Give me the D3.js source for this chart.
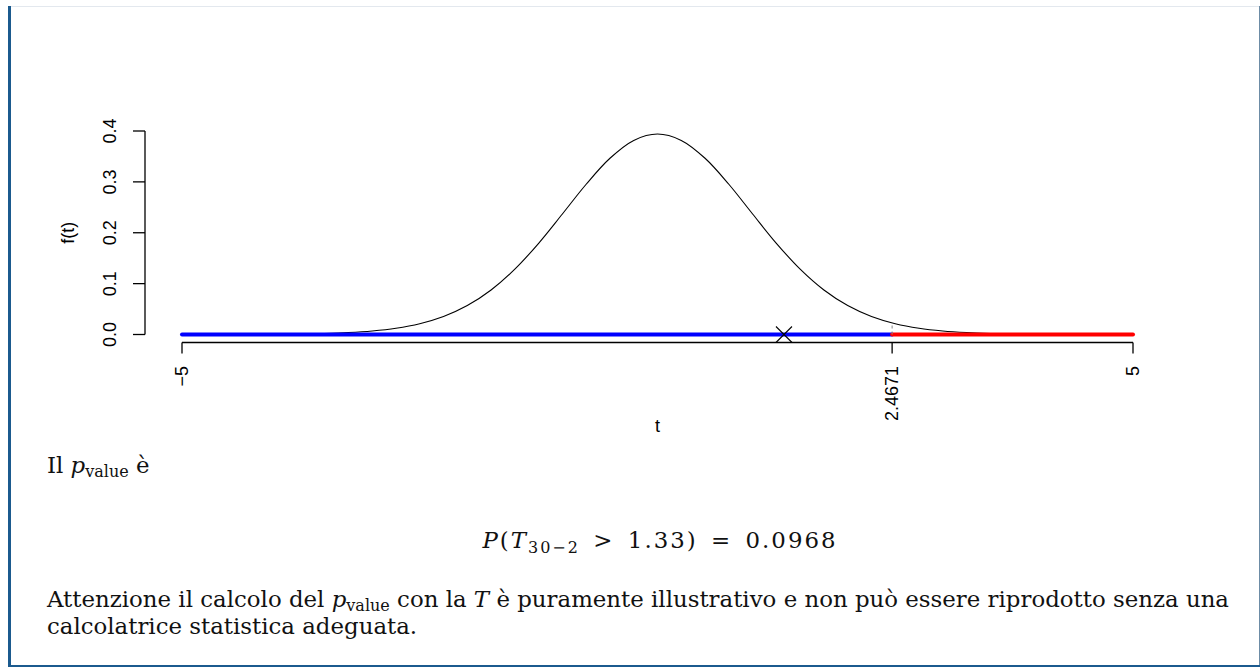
<!DOCTYPE html>
<html>
<head>
<meta charset="utf-8">
<script src="https://cdn.jsdelivr.net/npm/d3@7"></script>
<style>
  html, body { margin: 0; padding: 0; background: #fff; }
  svg { display: block; }
</style>
</head>
<body>
<svg id="chart" width="1260" height="667"></svg>
<script>
// ---- data ----
const tValues = [-5,-4.75,-4.5,-4.25,-4,-3.75,-3.5,-3.25,-3,-2.75,-2.5,-2.25,-2,-1.75,-1.5,-1.25,-1,-0.75,-0.5,-0.25,
                 0,0.25,0.5,0.75,1,1.25,1.5,1.75,2,2.25,2.5,2.75,3,3.25,3.5,3.75,4,4.25,4.5,4.75,5];
const densityValues = [0.0000379,0.0000748,0.000147,0.000289,0.000561,0.00108,0.00204,0.00380,0.00692,0.01230,
                       0.02122,0.03540,0.05683,0.08747,0.12847,0.17930,0.23690,0.29531,0.34638,0.38150,
                       0.39403,
                       0.38150,0.34638,0.29531,0.23690,0.17930,0.12847,0.08747,0.05683,0.03540,0.02122,
                       0.01230,0.00692,0.00380,0.00204,0.00108,0.000561,0.000289,0.000147,0.0000748,0.0000379];
const xTicks = [-5, 2.4671, 5];
const xTickLabels = ["\u22125", "2.4671", "5"];
const yTicks = [0, 0.1, 0.2, 0.3, 0.4];
const yTickLabels = ["0.0", "0.1", "0.2", "0.3", "0.4"];
const tObserved = 1.33;
const tCritical = 2.4671;
const densityAtCritical = 0.0227;
const acceptRegion = [-5, 2.4671];
const rejectRegion = [2.4671, 5];

// ---- layout ----
const svg = d3.select("#chart");
const x = d3.scaleLinear().domain([-5, 5]).range([182, 1133]);
const y = d3.scaleLinear().domain([0, 0.4]).range([334.5, 131]);
const sans = "'Liberation Sans', Arial, Helvetica, sans-serif";
const serif = "'DejaVu Serif', 'Liberation Serif', serif";

// page frame
svg.append("line").attr("x1", 10).attr("x2", 1260).attr("y1", 6.5).attr("y2", 6.5)
  .attr("stroke", "#e3e8ee").attr("stroke-width", 1);
svg.append("line").attr("x1", 1259.5).attr("x2", 1259.5).attr("y1", 6).attr("y2", 667)
  .attr("stroke", "#6d8ca6").attr("stroke-width", 1);
svg.append("rect").attr("x", 8).attr("y", 6).attr("width", 3).attr("height", 661).attr("fill", "#1b5a8e");
svg.append("rect").attr("x", 8).attr("y", 665).attr("width", 1252).attr("height", 2).attr("fill", "#1b5a8e");

// density curve
const pts = tValues.map((t, i) => [t, densityValues[i]]);
svg.append("path")
  .datum(pts)
  .attr("fill", "none").attr("stroke", "#000").attr("stroke-width", 1.1)
  .attr("d", d3.line().x(d => x(d[0])).y(d => y(d[1])).curve(d3.curveCatmullRom.alpha(0.5)));

// regions
svg.append("line")
  .attr("x1", x(acceptRegion[0])).attr("x2", x(acceptRegion[1]))
  .attr("y1", y(0)).attr("y2", y(0))
  .attr("stroke", "#0000ff").attr("stroke-width", 4).attr("stroke-linecap", "round");
svg.append("line")
  .attr("x1", x(rejectRegion[0])).attr("x2", x(rejectRegion[1]))
  .attr("y1", y(0)).attr("y2", y(0))
  .attr("stroke", "#ff0000").attr("stroke-width", 4).attr("stroke-linecap", "round");

// critical value dashed segment
svg.append("line")
  .attr("x1", x(tCritical)).attr("x2", x(tCritical))
  .attr("y1", y(0)).attr("y2", y(densityAtCritical))
  .attr("stroke", "#888").attr("stroke-width", 1).attr("stroke-dasharray", "3,3");

// observed statistic marker (X)
const mx = x(tObserved), my = y(0), ms = 8;
svg.append("path")
  .attr("d", `M${mx - ms},${my - ms}L${mx + ms},${my + ms}M${mx - ms},${my + ms}L${mx + ms},${my - ms}`)
  .attr("stroke", "#000").attr("stroke-width", 1.1).attr("fill", "none");

// x axis
const xAxisY = 342.5;
const gx = svg.append("g");
gx.append("line").attr("x1", x(-5)).attr("x2", x(5)).attr("y1", xAxisY).attr("y2", xAxisY)
  .attr("stroke", "#000").attr("stroke-width", 1.3);
xTicks.forEach((t, i) => {
  gx.append("line").attr("x1", x(t)).attr("x2", x(t)).attr("y1", xAxisY).attr("y2", xAxisY + 11)
    .attr("stroke", "#000").attr("stroke-width", 1.3);
  gx.append("text")
    .attr("transform", `translate(${x(t)},366) rotate(-90)`)
    .attr("text-anchor", "end").attr("dy", "0.35em")
    .attr("font-family", sans).attr("font-size", 18)
    .text(xTickLabels[i]);
});
svg.append("text").attr("x", x(0)).attr("y", 432).attr("text-anchor", "middle")
  .attr("font-family", sans).attr("font-size", 18).text("t");

// y axis
const yAxisX = 145;
const gy = svg.append("g");
gy.append("line").attr("x1", yAxisX).attr("x2", yAxisX).attr("y1", y(0)).attr("y2", y(0.4))
  .attr("stroke", "#000").attr("stroke-width", 1.3);
yTicks.forEach((v, i) => {
  gy.append("line").attr("x1", yAxisX - 12).attr("x2", yAxisX).attr("y1", y(v)).attr("y2", y(v))
    .attr("stroke", "#000").attr("stroke-width", 1.3);
  gy.append("text")
    .attr("transform", `translate(116,${y(v)}) rotate(-90)`)
    .attr("text-anchor", "middle")
    .attr("font-family", sans).attr("font-size", 18)
    .text(yTickLabels[i]);
});
svg.append("text")
  .attr("transform", `translate(74,${(y(0) + y(0.4)) / 2}) rotate(-90)`)
  .attr("text-anchor", "middle")
  .attr("font-family", sans).attr("font-size", 18).text("f(t)");

// ---- prose below the chart ----
const baseFs = 20;
const lines = [];
function mkText(xp, yp, target) {
  const t = svg.append("text").attr("x", xp).attr("y", yp).attr("font-family", serif)
    .attr("font-size", baseFs).attr("fill", "#111");
  lines.push({ t, target });
  return t;
}
function sub(textSel, s, shift) {
  textSel.append("tspan").attr("class", "sub").attr("dy", shift).text(s);
}
// Il p_value è
const l1 = mkText(47, 473, null);
l1.append("tspan").text("Il ");
l1.append("tspan").attr("font-style", "italic").text("p");
sub(l1, "value", 4);
l1.append("tspan").attr("dy", -4).text(" è");

// formula (centred, math spacing around relations)
const f = mkText(659, 548, 353).attr("text-anchor", "middle");
f.append("tspan").attr("font-style", "italic").text("P");
f.append("tspan").text("(");
f.append("tspan").attr("font-style", "italic").text("T");
sub(f, "30\u22122", 5);
f.append("tspan").attr("dy", -5).text("\u2002>\u20021.33)\u2002=\u20020.0968");

// note
const n1 = mkText(47, 607, 1182);
n1.append("tspan").text("Attenzione il calcolo del ");
n1.append("tspan").attr("font-style", "italic").text("p");
sub(n1, "value", 4);
n1.append("tspan").attr("dy", -4).text(" con la ");
n1.append("tspan").attr("font-style", "italic").text("T");
n1.append("tspan").text(" è puramente illustrativo e non può essere riprodotto senza una");

const n2 = mkText(47, 634, null);
n2.text("calcolatrice statistica adeguata.");

// size the serif font so the long line's natural width matches its target
svg.selectAll("tspan.sub").attr("font-size", baseFs * 0.7);
const natural = n1.node().getComputedTextLength();
const fs = baseFs * 1182 / natural;
lines.forEach(({ t }) => t.attr("font-size", fs));
svg.selectAll("tspan.sub").attr("font-size", fs * 0.7);
lines.forEach(({ t, target }) => {
  if (target) t.attr("textLength", target).attr("lengthAdjust", "spacing");
});
</script>
</body>
</html>
